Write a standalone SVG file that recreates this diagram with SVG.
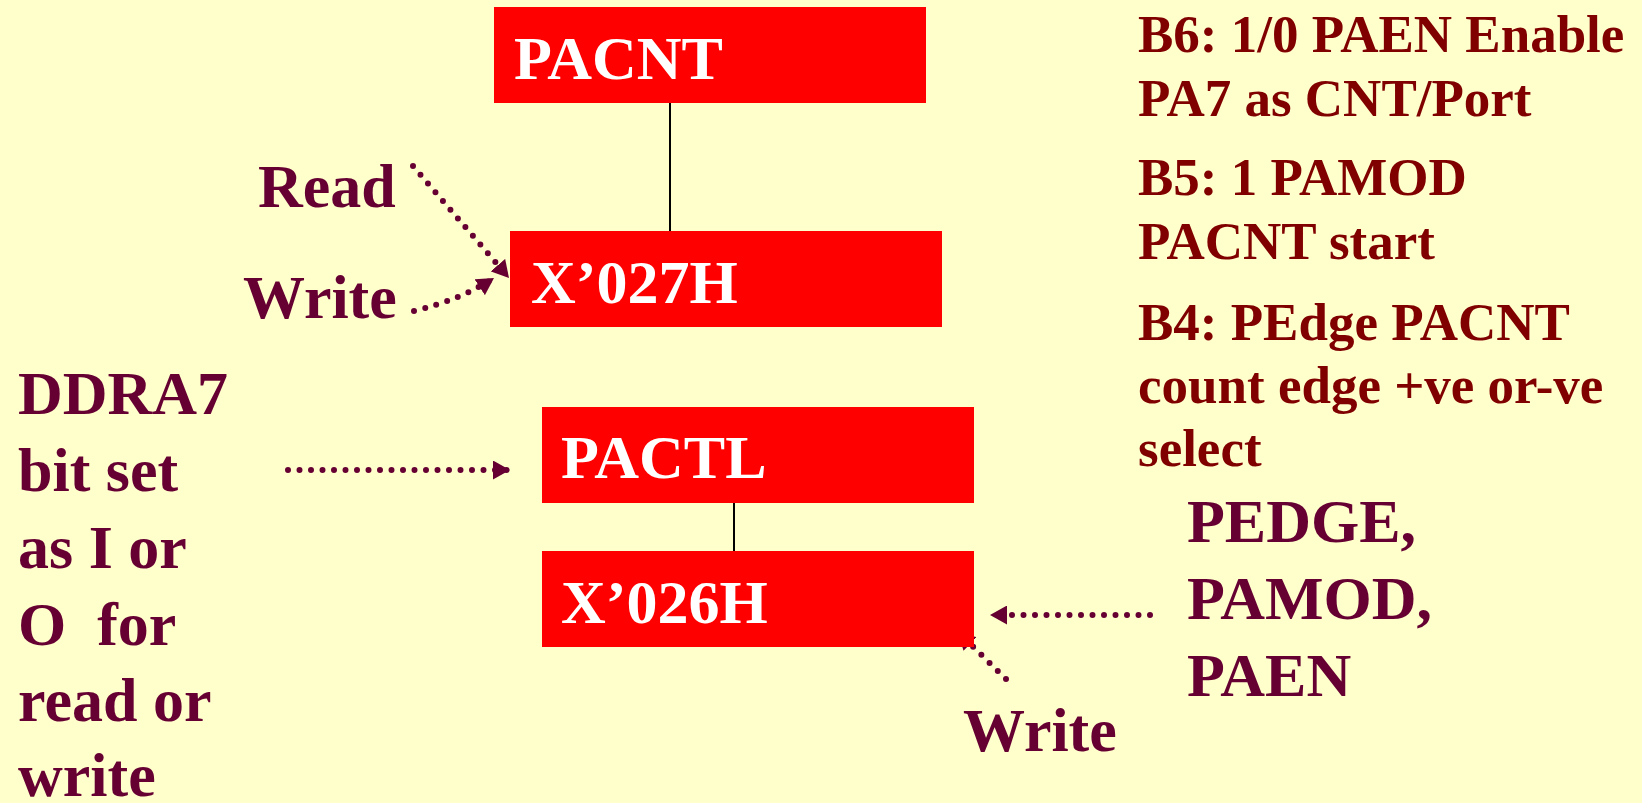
<svg xmlns="http://www.w3.org/2000/svg" width="1642" height="803" viewBox="0 0 1642 803">
  <style>
    .bg { fill: #FFFFCC; }
    .box { fill: #FF0000; }
    .boxtxt { font-family: "Liberation Serif", "Times New Roman", serif; font-weight: bold; font-size: 62px; fill: #FFFFFF; }
    .lbl { font-family: "Liberation Serif", "Times New Roman", serif; font-weight: bold; font-size: 62px; fill: #660033; }
    .note { font-family: "Liberation Serif", "Times New Roman", serif; font-weight: bold; font-size: 53px; fill: #800000; }
    .link { stroke: #000000; stroke-width: 2; fill: none; }
    .dots { stroke: #660033; stroke-width: 6; stroke-linecap: round; stroke-dasharray: 0 11.5; fill: none; marker-end: url(#head); }
  </style>
  <defs>
    <marker id="head" viewBox="0 0 17 19" refX="17" refY="9.5" markerWidth="17" markerHeight="19" markerUnits="userSpaceOnUse" orient="auto">
      <path d="M0,0 L17,9.5 L0,19 z" fill="#660033"/>
    </marker>
  </defs>

  <rect class="bg" x="0" y="0" width="1642" height="803"/>

  <!-- connectors: solid links between register pairs, dotted access arrows -->
  <g id="connectors">
    <line class="link" x1="670" y1="102" x2="670" y2="231"/>
    <line class="link" x1="734" y1="502" x2="734" y2="551"/>
    <path class="dots" d="M413,166 L509,278"/>
    <path class="dots" d="M414,311 Q460,300 494,278"/>
    <path class="dots" d="M288,470 L510,470"/>
    <path class="dots" d="M1150,615 L990,615"/>
    <path class="dots" d="M1006,679 L958,632"/>
  </g>

  <g id="pacnt">
    <rect class="box" x="494" y="7" width="432" height="96"/>
    <text class="boxtxt" x="514" y="79">PACNT</text>
  </g>
  <g id="x027h">
    <rect class="box" x="510" y="231" width="432" height="96"/>
    <text class="boxtxt" x="531" y="303">X’027H</text>
  </g>
  <g id="pactl">
    <rect class="box" x="542" y="407" width="432" height="96"/>
    <text class="boxtxt" x="561" y="478">PACTL</text>
  </g>
  <g id="x026h">
    <rect class="box" x="542" y="551" width="432" height="96"/>
    <text class="boxtxt" x="561" y="623">X’026H</text>
  </g>

  <g id="read-label">
    <text class="lbl" x="258" y="207">Read</text>
  </g>
  <g id="write-label-top">
    <text class="lbl" x="243" y="318">Write</text>
  </g>
  <g id="write-label-bottom">
    <text class="lbl" x="963" y="751">Write</text>
  </g>

  <g id="ddra7-note">
    <text class="lbl" x="18" y="414">DDRA7</text>
    <text class="lbl" x="18" y="491">bit set</text>
    <text class="lbl" x="18" y="568">as I or</text>
    <text class="lbl" x="18" y="645" xml:space="preserve">O  for</text>
    <text class="lbl" x="18" y="721">read or</text>
    <text class="lbl" x="18" y="796">write</text>
  </g>

  <g id="bits-note">
    <text class="lbl" x="1187" y="542">PEDGE,</text>
    <text class="lbl" x="1187" y="619">PAMOD,</text>
    <text class="lbl" x="1187" y="696">PAEN</text>
  </g>

  <g id="pactl-bits">
    <text class="note" x="1138" y="52">B6: 1/0 PAEN Enable</text>
    <text class="note" x="1138" y="116">PA7 as CNT/Port</text>
    <text class="note" x="1138" y="195">B5: 1 PAMOD</text>
    <text class="note" x="1138" y="259">PACNT start</text>
    <text class="note" x="1138" y="340">B4: PEdge PACNT</text>
    <text class="note" x="1138" y="403">count edge +ve or-ve</text>
    <text class="note" x="1138" y="466">select</text>
  </g>
</svg>
